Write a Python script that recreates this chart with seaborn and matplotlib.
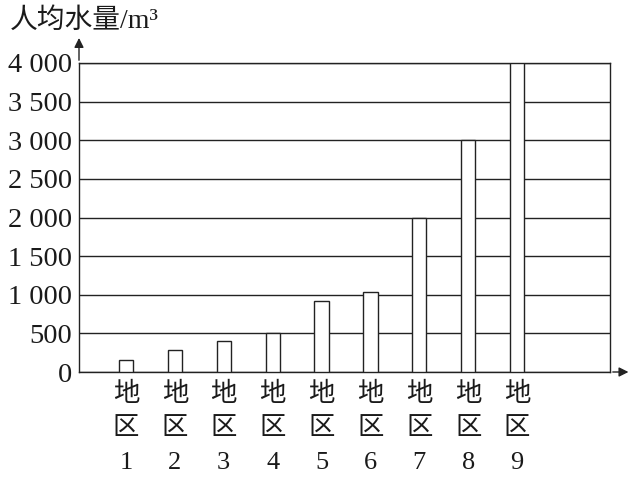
import matplotlib
matplotlib.use("Agg")
import matplotlib.pyplot as plt
import seaborn as sns
import pandas as pd

regions = ["地\n区\n1", "地\n区\n2", "地\n区\n3", "地\n区\n4", "地\n区\n5",
           "地\n区\n6", "地\n区\n7", "地\n区\n8", "地\n区\n9"]
water = [150, 290, 400, 510, 920, 1040, 2000, 3000, 4000]
yticks = [0, 500, 1000, 1500, 2000, 2500, 3000, 3500, 4000]
ytick_labels = ["0", "500", "1 000", "1 500", "2 000", "2 500", "3 000", "3 500", "4 000"]
ylabel = "人均水量/m³"

sns.set_theme(style="white")
fam = ["Liberation Serif", "Noto Sans CJK SC", "DejaVu Sans"]
plt.rcParams["font.family"] = fam

df = pd.DataFrame({"region": regions, "water": water})

fig = plt.figure(figsize=(6.37, 4.79), dpi=100)
ax = fig.add_axes([79/637, 1-372/479, (610-79)/637, (372-63)/479])

sns.barplot(data=df, x="region", y="water", ax=ax, color="white",
            edgecolor="#222222", linewidth=1.0, width=0.29, zorder=3)

ax.set_xlim(-0.96, 9.9)
ax.set_ylim(0, 4000)
ax.set_yticks(yticks)
ax.set_yticklabels(ytick_labels, fontsize=20.5, family=fam, color="#1a1a1a")
ax.yaxis.grid(True, color="#222222", linewidth=1.0)
ax.set_axisbelow(True)
ax.tick_params(axis="y", length=0, pad=5)
ax.tick_params(axis="x", length=0, pad=7)
for lab in ax.get_xticklabels():
    lab.set_fontsize(19)
    lab.set_family(fam)
    lab.set_linespacing(1.72)
    lab.set_color("#1a1a1a")
ax.set_xlabel("")
ax.set_ylabel("")
for s in ax.spines.values():
    s.set_color("#222222")
    s.set_linewidth(1.0)

# axis arrows
ax.annotate("", xy=(0, 1.09), xytext=(0, 1.0), xycoords="axes fraction",
            arrowprops=dict(arrowstyle="-|>", color="#222222", lw=1.0,
                            mutation_scale=14), annotation_clip=False)
ax.annotate("", xy=(1.04, 0), xytext=(1.0, 0), xycoords="axes fraction",
            arrowprops=dict(arrowstyle="-|>", color="#222222", lw=1.0,
                            mutation_scale=14), annotation_clip=False)

fig.text(10/637, 1-21/479, ylabel, fontsize=20, family=fam, va="center",
         ha="left", color="#1a1a1a")

fig.savefig("out.png", dpi=100, facecolor="white")
